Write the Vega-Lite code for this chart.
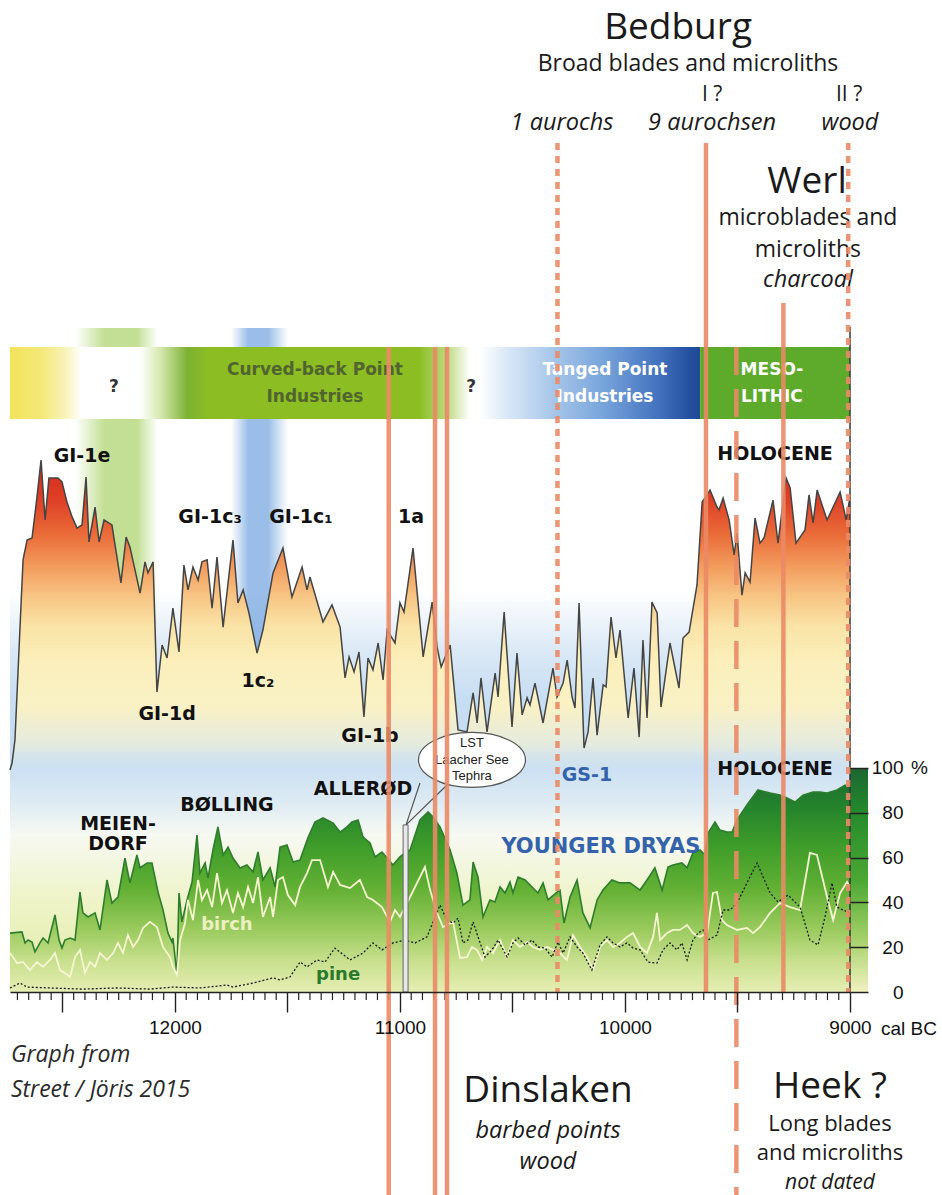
{
 "$schema": "https://vega.github.io/schema/vega-lite/v6.json",
 "width": 840,
 "height": 992,
 "autosize": {"type": "none"},
 "padding": {"left": 10, "top": 0, "right": 92, "bottom": 203},
 "background": "#ffffff",
 "config": {"view": {"stroke": null}},
 "datasets": {
  "temp": [
   {"year":12733,"t":99.1},{"year":12724,"t":102.2},{"year":12711,"t":112.5},{"year":12689,"t":161.6},{"year":12675,"t":192.9},{"year":12657,"t":201.8},{"year":12635,"t":202.7},{"year":12613,"t":221.0},{"year":12595,"t":237.5},{"year":12577,"t":210.7},{"year":12560,"t":229.5},{"year":12520,"t":229.5},{"year":12502,"t":227.7},{"year":12480,"t":218.8},{"year":12457,"t":212.1},{"year":12435,"t":207.1},{"year":12413,"t":208.5},{"year":12395,"t":229.9},{"year":12382,"t":200.9},{"year":12355,"t":216.5},{"year":12337,"t":200.9},{"year":12315,"t":210.7},{"year":12280,"t":208.5},{"year":12240,"t":182.6},{"year":12217,"t":203.1},{"year":12200,"t":198.7},{"year":12155,"t":178.1},{"year":12133,"t":192.0},{"year":12120,"t":187.1},{"year":12097,"t":192.0},{"year":12080,"t":133.9},{"year":12057,"t":154.9},{"year":12035,"t":149.1},{"year":12009,"t":171.4},{"year":11982,"t":151.8},{"year":11960,"t":190.6},{"year":11942,"t":179.5},{"year":11920,"t":189.7},{"year":11897,"t":183.9},{"year":11880,"t":192.0},{"year":11857,"t":192.9},{"year":11835,"t":171.4},{"year":11813,"t":194.2},{"year":11786,"t":162.9},{"year":11764,"t":182.6},{"year":11742,"t":201.8},{"year":11720,"t":173.7},{"year":11697,"t":179.5},{"year":11671,"t":169.2},{"year":11635,"t":151.3},{"year":11609,"t":161.6},{"year":11564,"t":187.1},{"year":11520,"t":198.2},{"year":11480,"t":176.3},{"year":11435,"t":189.7},{"year":11413,"t":179.5},{"year":11400,"t":185.3},{"year":11342,"t":165.2},{"year":11302,"t":172.8},{"year":11266,"t":162.9},{"year":11244,"t":140.2},{"year":11226,"t":149.6},{"year":11204,"t":142.9},{"year":11182,"t":151.8},{"year":11160,"t":122.8},{"year":11142,"t":149.1},{"year":11120,"t":143.8},{"year":11097,"t":155.8},{"year":11075,"t":139.3},{"year":11057,"t":161.6},{"year":11022,"t":155.8},{"year":11000,"t":173.7},{"year":10982,"t":169.6},{"year":10942,"t":198.2},{"year":10897,"t":149.6},{"year":10857,"t":174.1},{"year":10835,"t":154.0},{"year":10817,"t":145.1},{"year":10777,"t":154.9},{"year":10742,"t":117.0},{"year":10702,"t":116.1},{"year":10675,"t":133.5},{"year":10657,"t":120.1},{"year":10640,"t":140.2},{"year":10613,"t":116.1},{"year":10577,"t":142.4},{"year":10564,"t":131.7},{"year":10537,"t":169.6},{"year":10502,"t":118.3},{"year":10480,"t":151.3},{"year":10457,"t":123.7},{"year":10435,"t":131.3},{"year":10422,"t":128.1},{"year":10400,"t":137.9},{"year":10364,"t":120.1},{"year":10320,"t":144.6},{"year":10302,"t":131.7},{"year":10275,"t":137.9},{"year":10257,"t":148.2},{"year":10235,"t":131.7},{"year":10222,"t":126.8},{"year":10204,"t":173.7},{"year":10182,"t":108.9},{"year":10164,"t":116.1},{"year":10142,"t":140.2},{"year":10124,"t":114.7},{"year":10097,"t":137.1},{"year":10084,"t":136.2},{"year":10062,"t":167.4},{"year":10040,"t":149.1},{"year":10022,"t":161.6},{"year":9986,"t":122.3},{"year":9960,"t":144.6},{"year":9937,"t":113.8},{"year":9920,"t":157.1},{"year":9902,"t":122.3},{"year":9880,"t":174.1},{"year":9857,"t":169.2},{"year":9840,"t":127.2},{"year":9800,"t":155.8},{"year":9760,"t":135.7},{"year":9742,"t":158.0},{"year":9715,"t":160.7},{"year":9680,"t":181.7},{"year":9657,"t":218.8},{"year":9622,"t":224.1},{"year":9591,"t":216.5},{"year":9582,"t":215.2},{"year":9564,"t":220.5},{"year":9537,"t":210.7},{"year":9515,"t":195.1},{"year":9502,"t":204.9},{"year":9480,"t":177.2},{"year":9466,"t":187.1},{"year":9444,"t":183.0},{"year":9422,"t":211.6},{"year":9400,"t":200.4},{"year":9382,"t":202.7},{"year":9342,"t":219.6},{"year":9320,"t":200.4},{"year":9284,"t":229.5},{"year":9266,"t":225.0},{"year":9240,"t":200.4},{"year":9200,"t":206.3},{"year":9182,"t":221.9},{"year":9164,"t":209.4},{"year":9146,"t":224.1},{"year":9102,"t":210.7},{"year":9044,"t":223.2},{"year":9017,"t":210.7},{"year":9000,"t":221.0}
  ],
  "total": [
   {"year":12733,"pct":26.3},{"year":12680,"pct":26.8},{"year":12666,"pct":21.9},{"year":12653,"pct":23.2},{"year":12635,"pct":22.3},{"year":12622,"pct":17.9},{"year":12600,"pct":21.9},{"year":12586,"pct":24.1},{"year":12564,"pct":21.9},{"year":12533,"pct":34.4},{"year":12515,"pct":23.2},{"year":12502,"pct":19.6},{"year":12489,"pct":23.2},{"year":12466,"pct":24.1},{"year":12444,"pct":23.2},{"year":12422,"pct":44.6},{"year":12409,"pct":35.3},{"year":12386,"pct":33.5},{"year":12355,"pct":35.3},{"year":12333,"pct":27.7},{"year":12302,"pct":50.0},{"year":12280,"pct":39.7},{"year":12253,"pct":42.4},{"year":12222,"pct":59.8},{"year":12200,"pct":48.7},{"year":12169,"pct":61.2},{"year":12155,"pct":55.4},{"year":12124,"pct":57.6},{"year":12102,"pct":57.6},{"year":12075,"pct":44.6},{"year":12053,"pct":36.6},{"year":12031,"pct":26.3},{"year":12013,"pct":22.3},{"year":12009,"pct":24.1},{"year":11991,"pct":7.6},{"year":11982,"pct":44.2},{"year":11969,"pct":31.3},{"year":11946,"pct":41.1},{"year":11924,"pct":49.1},{"year":11902,"pct":70.1},{"year":11889,"pct":53.1},{"year":11866,"pct":57.6},{"year":11853,"pct":50.9},{"year":11831,"pct":63.4},{"year":11809,"pct":73.7},{"year":11786,"pct":61.2},{"year":11764,"pct":64.7},{"year":11742,"pct":59.8},{"year":11711,"pct":55.4},{"year":11680,"pct":56.7},{"year":11653,"pct":53.6},{"year":11631,"pct":62.5},{"year":11609,"pct":50.0},{"year":11577,"pct":55.4},{"year":11555,"pct":46.9},{"year":11533,"pct":64.7},{"year":11502,"pct":65.6},{"year":11475,"pct":58.0},{"year":11444,"pct":58.9},{"year":11409,"pct":68.8},{"year":11378,"pct":75.9},{"year":11342,"pct":77.7},{"year":11297,"pct":75.4},{"year":11266,"pct":71.4},{"year":11235,"pct":73.7},{"year":11213,"pct":75.9},{"year":11186,"pct":76.8},{"year":11164,"pct":69.2},{"year":11133,"pct":66.5},{"year":11111,"pct":60.3},{"year":11080,"pct":62.5},{"year":11057,"pct":59.8},{"year":11031,"pct":56.7},{"year":11000,"pct":60.3},{"year":10978,"pct":62.1},{"year":10955,"pct":63.4},{"year":10911,"pct":76.8},{"year":10875,"pct":80.4},{"year":10853,"pct":78.1},{"year":10822,"pct":73.7},{"year":10777,"pct":63.4},{"year":10747,"pct":53.1},{"year":10720,"pct":38.8},{"year":10689,"pct":41.1},{"year":10675,"pct":58.0},{"year":10653,"pct":51.3},{"year":10631,"pct":33.5},{"year":10600,"pct":41.1},{"year":10578,"pct":40.2},{"year":10555,"pct":46.9},{"year":10533,"pct":44.2},{"year":10511,"pct":49.1},{"year":10498,"pct":44.2},{"year":10475,"pct":51.3},{"year":10444,"pct":50.0},{"year":10413,"pct":46.9},{"year":10387,"pct":44.2},{"year":10364,"pct":48.7},{"year":10342,"pct":41.1},{"year":10302,"pct":44.6},{"year":10289,"pct":45.5},{"year":10271,"pct":30.8},{"year":10244,"pct":42.4},{"year":10213,"pct":50.0},{"year":10187,"pct":35.3},{"year":10155,"pct":28.6},{"year":10124,"pct":41.1},{"year":10098,"pct":45.5},{"year":10058,"pct":50.0},{"year":10022,"pct":48.7},{"year":9978,"pct":48.7},{"year":9933,"pct":45.5},{"year":9902,"pct":50.0},{"year":9867,"pct":55.4},{"year":9835,"pct":45.5},{"year":9809,"pct":55.8},{"year":9787,"pct":56.7},{"year":9747,"pct":57.6},{"year":9724,"pct":55.4},{"year":9698,"pct":62.1},{"year":9667,"pct":63.4},{"year":9644,"pct":61.2},{"year":9631,"pct":71.0},{"year":9600,"pct":75.9},{"year":9578,"pct":72.3},{"year":9547,"pct":71.4},{"year":9524,"pct":71.4},{"year":9502,"pct":76.8},{"year":9458,"pct":83.5},{"year":9409,"pct":90.2},{"year":9355,"pct":88.8},{"year":9311,"pct":87.9},{"year":9280,"pct":86.6},{"year":9244,"pct":84.8},{"year":9209,"pct":87.9},{"year":9164,"pct":89.3},{"year":9133,"pct":89.3},{"year":9102,"pct":88.8},{"year":9058,"pct":90.2},{"year":9022,"pct":92.4},{"year":9000,"pct":91.5}
  ],
  "birch": [
   {"year":12733,"pct":17.4},{"year":12702,"pct":12.9},{"year":12675,"pct":13.4},{"year":12644,"pct":9.8},{"year":12613,"pct":13.4},{"year":12586,"pct":11.2},{"year":12555,"pct":14.3},{"year":12533,"pct":17.4},{"year":12511,"pct":9.8},{"year":12489,"pct":8.5},{"year":12466,"pct":6.7},{"year":12444,"pct":15.6},{"year":12422,"pct":18.8},{"year":12400,"pct":8.5},{"year":12377,"pct":13.4},{"year":12355,"pct":11.2},{"year":12333,"pct":17.4},{"year":12302,"pct":14.3},{"year":12275,"pct":17.4},{"year":12253,"pct":21.9},{"year":12231,"pct":17.4},{"year":12209,"pct":25.4},{"year":12186,"pct":20.1},{"year":12164,"pct":23.2},{"year":12142,"pct":28.6},{"year":12111,"pct":31.3},{"year":12080,"pct":29.0},{"year":12053,"pct":20.1},{"year":12022,"pct":15.6},{"year":12009,"pct":11.2},{"year":11991,"pct":7.6},{"year":11977,"pct":23.2},{"year":11955,"pct":30.8},{"year":11942,"pct":41.1},{"year":11920,"pct":32.1},{"year":11897,"pct":50.0},{"year":11880,"pct":41.1},{"year":11857,"pct":45.5},{"year":11835,"pct":37.9},{"year":11813,"pct":53.1},{"year":11791,"pct":39.7},{"year":11769,"pct":45.5},{"year":11742,"pct":35.3},{"year":11720,"pct":44.2},{"year":11697,"pct":37.9},{"year":11675,"pct":46.9},{"year":11653,"pct":39.7},{"year":11631,"pct":51.3},{"year":11609,"pct":33.5},{"year":11577,"pct":42.4},{"year":11564,"pct":33.5},{"year":11542,"pct":50.0},{"year":11520,"pct":51.3},{"year":11498,"pct":43.3},{"year":11466,"pct":38.8},{"year":11444,"pct":46.9},{"year":11413,"pct":53.1},{"year":11391,"pct":58.9},{"year":11355,"pct":58.9},{"year":11320,"pct":46.9},{"year":11297,"pct":53.6},{"year":11266,"pct":47.8},{"year":11222,"pct":46.4},{"year":11178,"pct":50.0},{"year":11146,"pct":42.4},{"year":11120,"pct":41.1},{"year":11080,"pct":37.9},{"year":11044,"pct":31.3},{"year":11022,"pct":36.6},{"year":11000,"pct":33.5},{"year":10955,"pct":42.4},{"year":10889,"pct":55.8},{"year":10866,"pct":45.5},{"year":10835,"pct":35.3},{"year":10809,"pct":29.0},{"year":10764,"pct":31.3},{"year":10733,"pct":15.2},{"year":10702,"pct":15.6},{"year":10680,"pct":20.1},{"year":10658,"pct":18.8},{"year":10635,"pct":14.3},{"year":10613,"pct":20.1},{"year":10586,"pct":17.4},{"year":10555,"pct":23.2},{"year":10524,"pct":15.6},{"year":10498,"pct":23.2},{"year":10467,"pct":20.1},{"year":10435,"pct":22.3},{"year":10409,"pct":20.1},{"year":10378,"pct":18.8},{"year":10347,"pct":20.1},{"year":10320,"pct":18.8},{"year":10289,"pct":17.4},{"year":10258,"pct":14.3},{"year":10231,"pct":25.4},{"year":10200,"pct":20.1},{"year":10169,"pct":15.6},{"year":10142,"pct":9.8},{"year":10111,"pct":20.1},{"year":10080,"pct":23.2},{"year":10053,"pct":20.1},{"year":10022,"pct":21.9},{"year":9991,"pct":24.6},{"year":9964,"pct":26.3},{"year":9933,"pct":20.1},{"year":9902,"pct":17.4},{"year":9875,"pct":24.6},{"year":9858,"pct":35.3},{"year":9844,"pct":23.2},{"year":9813,"pct":26.3},{"year":9787,"pct":27.7},{"year":9756,"pct":27.7},{"year":9724,"pct":29.9},{"year":9698,"pct":26.3},{"year":9667,"pct":24.6},{"year":9635,"pct":26.3},{"year":9609,"pct":44.2},{"year":9591,"pct":44.6},{"year":9569,"pct":32.1},{"year":9547,"pct":29.9},{"year":9502,"pct":27.7},{"year":9458,"pct":28.6},{"year":9431,"pct":26.3},{"year":9400,"pct":29.0},{"year":9355,"pct":35.3},{"year":9311,"pct":39.7},{"year":9266,"pct":37.9},{"year":9222,"pct":36.6},{"year":9178,"pct":62.1},{"year":9147,"pct":61.2},{"year":9102,"pct":42.4},{"year":9075,"pct":32.1},{"year":9044,"pct":44.2},{"year":9013,"pct":49.1},{"year":9000,"pct":46.9}
  ],
  "pine": [
   {"year":12733,"pct":1.8},{"year":12689,"pct":4.0},{"year":12657,"pct":2.2},{"year":12555,"pct":1.8},{"year":12409,"pct":1.3},{"year":12258,"pct":1.8},{"year":12111,"pct":1.3},{"year":12009,"pct":2.2},{"year":11889,"pct":1.8},{"year":11769,"pct":3.1},{"year":11742,"pct":2.2},{"year":11653,"pct":4.0},{"year":11564,"pct":6.3},{"year":11533,"pct":5.4},{"year":11489,"pct":6.7},{"year":11444,"pct":13.4},{"year":11413,"pct":11.2},{"year":11369,"pct":14.3},{"year":11333,"pct":13.4},{"year":11289,"pct":19.6},{"year":11222,"pct":14.3},{"year":11164,"pct":17.4},{"year":11120,"pct":21.9},{"year":11080,"pct":18.8},{"year":11031,"pct":21.9},{"year":10978,"pct":23.2},{"year":10933,"pct":21.9},{"year":10880,"pct":24.6},{"year":10853,"pct":31.3},{"year":10822,"pct":38.8},{"year":10791,"pct":32.1},{"year":10764,"pct":30.8},{"year":10742,"pct":33.0},{"year":10720,"pct":21.9},{"year":10698,"pct":23.2},{"year":10675,"pct":31.3},{"year":10653,"pct":24.6},{"year":10622,"pct":15.6},{"year":10591,"pct":18.8},{"year":10564,"pct":23.2},{"year":10524,"pct":15.6},{"year":10498,"pct":21.9},{"year":10475,"pct":24.1},{"year":10444,"pct":21.0},{"year":10413,"pct":23.2},{"year":10387,"pct":20.1},{"year":10355,"pct":19.6},{"year":10324,"pct":15.6},{"year":10298,"pct":22.3},{"year":10275,"pct":17.4},{"year":10244,"pct":24.6},{"year":10213,"pct":20.1},{"year":10187,"pct":17.4},{"year":10147,"pct":9.8},{"year":10111,"pct":21.0},{"year":10080,"pct":24.6},{"year":10053,"pct":21.9},{"year":10022,"pct":20.1},{"year":9991,"pct":21.9},{"year":9964,"pct":19.6},{"year":9933,"pct":18.8},{"year":9898,"pct":13.4},{"year":9858,"pct":12.9},{"year":9831,"pct":18.8},{"year":9800,"pct":21.9},{"year":9769,"pct":18.8},{"year":9747,"pct":21.9},{"year":9724,"pct":14.3},{"year":9698,"pct":23.2},{"year":9675,"pct":26.3},{"year":9653,"pct":27.7},{"year":9631,"pct":23.2},{"year":9591,"pct":25.4},{"year":9564,"pct":36.6},{"year":9533,"pct":36.6},{"year":9502,"pct":39.7},{"year":9458,"pct":48.7},{"year":9413,"pct":57.6},{"year":9386,"pct":51.3},{"year":9355,"pct":44.2},{"year":9320,"pct":40.2},{"year":9275,"pct":43.3},{"year":9222,"pct":37.9},{"year":9178,"pct":23.2},{"year":9142,"pct":21.0},{"year":9111,"pct":33.5},{"year":9080,"pct":48.7},{"year":9058,"pct":37.9},{"year":9031,"pct":36.6},{"year":9000,"pct":35.3}
  ],
  "minorTicks": [
   {"year":12700},{"year":12650},{"year":12600},{"year":12550},{"year":12450},{"year":12400},{"year":12350},{"year":12300},{"year":12250},{"year":12200},{"year":12150},{"year":12100},{"year":12050},{"year":11950},{"year":11900},{"year":11850},{"year":11800},{"year":11750},{"year":11700},{"year":11650},{"year":11600},{"year":11550},{"year":11450},{"year":11400},{"year":11350},{"year":11300},{"year":11250},{"year":11200},{"year":11150},{"year":11100},{"year":11050},{"year":10950},{"year":10900},{"year":10850},{"year":10800},{"year":10750},{"year":10700},{"year":10650},{"year":10600},{"year":10550},{"year":10450},{"year":10400},{"year":10350},{"year":10300},{"year":10250},{"year":10200},{"year":10150},{"year":10100},{"year":10050},{"year":9950},{"year":9900},{"year":9850},{"year":9800},{"year":9750},{"year":9700},{"year":9650},{"year":9600},{"year":9550},{"year":9450},{"year":9400},{"year":9350},{"year":9300},{"year":9250},{"year":9200},{"year":9150},{"year":9100},{"year":9050}
  ],
  "boldLabels": [
   {"year":12413,"v":236.6,"label":"GI-1e"},{"year":11844,"v":209.4,"label":"GI-1c₃"},{"year":11440,"v":209.4,"label":"GI-1c₁"},{"year":10951,"v":209.4,"label":"1a"},{"year":11631,"v":136.2,"label":"1c₂"},{"year":12035,"v":121.4,"label":"GI-1d"},{"year":11133,"v":111.6,"label":"GI-1b"},{"year":9333,"v":237.5,"label":"HOLOCENE"},{"year":9333,"v":96.9,"label":"HOLOCENE"},{"year":12253,"v":72.3,"label":"MEIEN-"},{"year":12253,"v":63.4,"label":"DORF"},{"year":11769,"v":80.8,"label":"BØLLING"},{"year":11164,"v":87.9,"label":"ALLERØD"}
  ],
  "siteBig": [
   {"year":9764,"v":425.4,"label":"Bedburg"},{"year":9191,"v":356.6,"label":"Werl"},{"year":10342,"v":-49.1,"label":"Dinslaken"},{"year":9089,"v":-47.3,"label":"Heek ?"}
  ],
  "siteSub": [
   {"year":9720,"v":411.0,"label":"Broad blades and microliths"},{"year":9187,"v":342.4,"label":"microblades and"},{"year":9187,"v":328.3,"label":"microliths"}
  ],
  "roman": [
   {"year":9613,"v":397.8,"label":"I ?"},{"year":9004,"v":397.8,"label":"II ?"}
  ],
  "siteSubLow": [
   {"year":9089,"v":-62.1,"label":"Long blades"},{"year":9089,"v":-75.0,"label":"and microliths"}
  ],
  "siteItalic": [
   {"year":10280,"v":384.8,"label":"1 aurochs"},{"year":9613,"v":384.8,"label":"9 aurochsen"},{"year":9000,"v":384.8,"label":"wood"},{"year":9187,"v":314.9,"label":"charcoal"},{"year":10342,"v":-65.2,"label":"barbed points"},{"year":10342,"v":-79.0,"label":"wood"}
  ],
  "siteItalicLow": [
   {"year":9089,"v":-87.9,"label":"not dated"}
  ],
  "source": [
   {"year":12729,"v":-31.3,"label":"Graph from"},{"year":12729,"v":-46.9,"label":"Street / Jöris 2015"}
  ],
  "solidLines": [
   {"year":11050,"v":287.9,"v2":-90.6,"site":"Dinslaken"},{"year":10844,"v":287.9,"v2":-90.6,"site":"Dinslaken"},{"year":10791,"v":287.9,"v2":-90.6,"site":"Dinslaken"},{"year":9640,"v":379.0,"v2":0,"site":"Bedburg I"},{"year":9296,"v":307.6,"v2":0,"site":"Werl"}
  ],
  "shortDashLines": [
   {"year":10300,"v":379.0,"v2":0,"site":"Bedburg 1 aurochs"},{"year":9008,"v":379.0,"v2":0,"site":"Bedburg II"}
  ],
  "longDashLines": [
   {"year":9505,"v":287.9,"v2":-90.6,"site":"Heek"}
  ]
 },
 "layer": [
  {
   "data": {"values": [{"year": 12733, "year2": 9000, "v": 0, "v2": 252}]},
   "mark": {"type": "rect", "color": {"gradient": "linear", "x1": 0, "y1": 0, "x2": 0, "y2": 1, "stops": [
     {"offset": 0, "color": "#ffffff"}, {"offset": 0.289, "color": "#ffffff"}, {"offset": 0.395, "color": "#dbe9f6"}, {"offset": 0.484, "color": "#c6ddf2"}, {"offset": 0.59, "color": "#c8def2"}, {"offset": 0.66, "color": "#dceaf3"}, {"offset": 0.722, "color": "#f7f9f2"}, {"offset": 0.837, "color": "#eef4c8"}, {"offset": 1, "color": "#e0eaa4"}]}},
   "encoding": {
    "x": {"field": "year", "type": "quantitative", "scale": {"domain": [9000, 12733], "reverse": true, "nice": false, "zero": false},
     "axis": {"values": [12500, 12000, 11500, 11000, 10500, 10000, 9500, 9000], "labelExpr": "datum.value % 1000 == 0 ? format(datum.value, 'd') : ''", "tickSize": 20, "tickWidth": 1.4, "tickColor": "#222222", "domainColor": "#222222", "domainWidth": 1.5, "labelFont": "Liberation Sans", "labelFontSize": 19, "labelColor": "#111111", "labelPadding": 6, "labelFlush": false, "labelOverlap": false, "grid": false, "title": null, "zindex": 2}},
    "x2": {"field": "year2"},
    "y": {"field": "v", "type": "quantitative", "scale": {"domain": [0, 442.857], "nice": false, "zero": false},
     "axis": {"orient": "right", "values": [0, 20, 40, 60, 80, 100], "labelExpr": "datum.value == 100 ? '100' : format(datum.value, 'd')", "domain": false, "tickSize": 18, "tickWidth": 1.5, "tickColor": "#222222", "labelFont": "Liberation Sans", "labelFontSize": 19, "labelColor": "#111111", "labelAlign": "right", "labelPadding": 35, "labelBaseline": "middle", "labelFlush": false, "labelOverlap": false, "grid": false, "title": null, "zindex": 2}},
    "y2": {"field": "v2"}
   }
  },
  {
   "data": {"values": [{"zone": "green", "year": 12444, "year2": 12075, "v": 150, "v2": 296.4}]},
   "mark": {"type": "rect", "color": {"gradient": "linear", "x1": 0, "y1": 0, "x2": 1, "y2": 0, "stops": [
     {"offset": 0, "color": "rgba(165,208,90,0)"}, {"offset": 0.35, "color": "rgba(155,202,78,0.6)"}, {"offset": 0.75, "color": "rgba(155,202,78,0.6)"}, {"offset": 1, "color": "rgba(165,208,90,0)"}]}},
   "encoding": {
    "x": {"field": "year", "type": "quantitative", "scale": {"domain": [9000, 12733], "reverse": true, "nice": false, "zero": false}},
    "x2": {"field": "year2"},
    "y": {"field": "v", "type": "quantitative", "scale": {"domain": [0, 442.857], "nice": false, "zero": false}},
    "y2": {"field": "v2"}
   }
  },
  {
   "data": {"values": [{"zone": "blue", "year": 11751, "year2": 11497, "v": 150, "v2": 296.4}]},
   "mark": {"type": "rect", "color": {"gradient": "linear", "x1": 0, "y1": 0, "x2": 1, "y2": 0, "stops": [
     {"offset": 0, "color": "rgba(110,160,222,0)"}, {"offset": 0.3, "color": "rgba(100,155,220,0.65)"}, {"offset": 0.65, "color": "rgba(100,155,220,0.65)"}, {"offset": 1, "color": "rgba(110,160,222,0)"}]}},
   "encoding": {
    "x": {"field": "year", "type": "quantitative", "scale": {"domain": [9000, 12733], "reverse": true, "nice": false, "zero": false}},
    "x2": {"field": "year2"},
    "y": {"field": "v", "type": "quantitative", "scale": {"domain": [0, 442.857], "nice": false, "zero": false}},
    "y2": {"field": "v2"}
   }
  },
  {
   "data": {"name": "temp"},
   "mark": {"type": "area", "color": {"gradient": "linear", "x1": 0, "y1": 0, "x2": 0, "y2": 1, "stops": [
     {"offset": 0, "color": "#d3281c"}, {"offset": 0.13, "color": "#de4026"}, {"offset": 0.245, "color": "#ea6e3a"}, {"offset": 0.34, "color": "#f29a5c"}, {"offset": 0.44, "color": "#f7c584"}, {"offset": 0.535, "color": "#fae3a6"}, {"offset": 0.65, "color": "#fbefbb"}, {"offset": 0.8, "color": "#f9f1c6"}, {"offset": 0.92, "color": "rgba(240,240,214,0.7)"}, {"offset": 1, "color": "rgba(215,230,240,0.15)"}]}},
   "encoding": {
    "x": {"field": "year", "type": "quantitative", "scale": {"domain": [9000, 12733], "reverse": true, "nice": false, "zero": false}},
    "y": {"field": "t", "type": "quantitative", "scale": {"domain": [0, 442.857], "nice": false, "zero": false}},
    "y2": {"datum": 100}
   }
  },
  {
   "data": {"name": "temp"},
   "mark": {"type": "line", "color": "#444444", "strokeWidth": 1.5},
   "encoding": {
    "x": {"field": "year", "type": "quantitative", "scale": {"domain": [9000, 12733], "reverse": true, "nice": false, "zero": false}},
    "y": {"field": "t", "type": "quantitative", "scale": {"domain": [0, 442.857], "nice": false, "zero": false}}
   }
  },
  {
   "data": {"values": [{"segment": "unknown early", "year": 12733, "year2": 12155, "v": 255.8, "v2": 287.9}]},
   "mark": {"type": "rect", "color": {"gradient": "linear", "x1": 0, "y1": 0, "x2": 1, "y2": 0, "stops": [
     {"offset": 0, "color": "#f2e35a"}, {"offset": 0.25, "color": "#f4e97a"}, {"offset": 0.42, "color": "#f8f2b8"}, {"offset": 0.55, "color": "#ffffff"}, {"offset": 1, "color": "#ffffff"}]}},
   "encoding": {
    "x": {"field": "year", "type": "quantitative", "scale": {"domain": [9000, 12733], "reverse": true, "nice": false, "zero": false}},
    "x2": {"field": "year2"},
    "y": {"field": "v", "type": "quantitative", "scale": {"domain": [0, 442.857], "nice": false, "zero": false}},
    "y2": {"field": "v2"}
   }
  },
  {
   "data": {"values": [{"segment": "Curved-back Point Industries", "year": 12155, "year2": 10644, "v": 255.8, "v2": 287.9}]},
   "mark": {"type": "rect", "color": {"gradient": "linear", "x1": 0, "y1": 0, "x2": 1, "y2": 0, "stops": [
     {"offset": 0, "color": "#ffffff"}, {"offset": 0.06, "color": "#d6e8b0"}, {"offset": 0.14, "color": "#7cb133"}, {"offset": 0.2, "color": "#8cbd22"}, {"offset": 0.82, "color": "#8cbd22"}, {"offset": 0.9, "color": "#bcd87e"}, {"offset": 0.97, "color": "#ffffff"}, {"offset": 1, "color": "#ffffff"}]}},
   "encoding": {
    "x": {"field": "year", "type": "quantitative", "scale": {"domain": [9000, 12733], "reverse": true, "nice": false, "zero": false}},
    "x2": {"field": "year2"},
    "y": {"field": "v", "type": "quantitative", "scale": {"domain": [0, 442.857], "nice": false, "zero": false}},
    "y2": {"field": "v2"}
   }
  },
  {
   "data": {"values": [{"segment": "Tanged Point Industries", "year": 10644, "year2": 9666, "v": 255.8, "v2": 287.9}]},
   "mark": {"type": "rect", "color": {"gradient": "linear", "x1": 0, "y1": 0, "x2": 1, "y2": 0, "stops": [
     {"offset": 0, "color": "#ffffff"}, {"offset": 0.1, "color": "#e0ecf8"}, {"offset": 0.3, "color": "#aecbeb"}, {"offset": 0.55, "color": "#7aa6dc"}, {"offset": 0.8, "color": "#4574c0"}, {"offset": 0.95, "color": "#2550a0"}, {"offset": 1, "color": "#1f4a94"}]}},
   "encoding": {
    "x": {"field": "year", "type": "quantitative", "scale": {"domain": [9000, 12733], "reverse": true, "nice": false, "zero": false}},
    "x2": {"field": "year2"},
    "y": {"field": "v", "type": "quantitative", "scale": {"domain": [0, 442.857], "nice": false, "zero": false}},
    "y2": {"field": "v2"}
   }
  },
  {
   "data": {"values": [{"segment": "Mesolithic", "year": 9666, "year2": 9000, "v": 255.8, "v2": 287.9}]},
   "mark": {"type": "rect", "color": "#5eab2c"},
   "encoding": {
    "x": {"field": "year", "type": "quantitative", "scale": {"domain": [9000, 12733], "reverse": true, "nice": false, "zero": false}},
    "x2": {"field": "year2"},
    "y": {"field": "v", "type": "quantitative", "scale": {"domain": [0, 442.857], "nice": false, "zero": false}},
    "y2": {"field": "v2"}
   }
  },
  {
   "data": {"values": [{"year": 11378, "v": 275.4, "label": "Curved-back Point"}, {"year": 11378, "v": 263.4, "label": "Industries"}]},
   "mark": {"type": "text", "font": "DejaVu Sans", "fontWeight": "bold", "fontSize": 17, "color": "#516430", "align": "center", "baseline": "alphabetic"},
   "encoding": {
    "x": {"field": "year", "type": "quantitative", "scale": {"domain": [9000, 12733], "reverse": true, "nice": false, "zero": false}},
    "y": {"field": "v", "type": "quantitative", "scale": {"domain": [0, 442.857], "nice": false, "zero": false}},
    "text": {"field": "label"}
   }
  },
  {
   "data": {"values": [{"year": 10089, "v": 275.4, "label": "Tanged Point"}, {"year": 10089, "v": 263.4, "label": "Industries"}, {"year": 9347, "v": 275.4, "label": "MESO-"}, {"year": 9347, "v": 263.4, "label": "LITHIC"}]},
   "mark": {"type": "text", "font": "DejaVu Sans", "fontWeight": "bold", "fontSize": 17, "color": "#ffffff", "align": "center", "baseline": "alphabetic"},
   "encoding": {
    "x": {"field": "year", "type": "quantitative", "scale": {"domain": [9000, 12733], "reverse": true, "nice": false, "zero": false}},
    "y": {"field": "v", "type": "quantitative", "scale": {"domain": [0, 442.857], "nice": false, "zero": false}},
    "text": {"field": "label"}
   }
  },
  {
   "data": {"values": [{"year": 12271, "v": 267.9, "label": "?"}, {"year": 10684, "v": 267.9, "label": "?"}]},
   "mark": {"type": "text", "font": "DejaVu Sans", "fontWeight": "bold", "fontSize": 17, "color": "#333333", "align": "center", "baseline": "alphabetic"},
   "encoding": {
    "x": {"field": "year", "type": "quantitative", "scale": {"domain": [9000, 12733], "reverse": true, "nice": false, "zero": false}},
    "y": {"field": "v", "type": "quantitative", "scale": {"domain": [0, 442.857], "nice": false, "zero": false}},
    "text": {"field": "label"}
   }
  },
  {
   "data": {"name": "total"},
   "mark": {"type": "area", "color": {"gradient": "linear", "x1": 0, "y1": 0, "x2": 0, "y2": 1, "stops": [
     {"offset": 0, "color": "#1d7330"}, {"offset": 0.12, "color": "#26852c"}, {"offset": 0.3, "color": "#3f9d2a"}, {"offset": 0.5, "color": "#62b034"}, {"offset": 0.7, "color": "#9bcb5e"}, {"offset": 0.85, "color": "#c8e08e"}, {"offset": 1, "color": "#e6eeb4"}]}},
   "encoding": {
    "x": {"field": "year", "type": "quantitative", "scale": {"domain": [9000, 12733], "reverse": true, "nice": false, "zero": false}},
    "y": {"field": "pct", "type": "quantitative", "scale": {"domain": [0, 442.857], "nice": false, "zero": false}},
    "y2": {"datum": 0}
   }
  },
  {
   "data": {"name": "total"},
   "mark": {"type": "line", "color": "#2d7d2d", "strokeWidth": 1.6},
   "encoding": {
    "x": {"field": "year", "type": "quantitative", "scale": {"domain": [9000, 12733], "reverse": true, "nice": false, "zero": false}},
    "y": {"field": "pct", "type": "quantitative", "scale": {"domain": [0, 442.857], "nice": false, "zero": false}}
   }
  },
  {
   "data": {"name": "birch"},
   "mark": {"type": "line", "color": "#f6f6d0", "strokeWidth": 1.8},
   "encoding": {
    "x": {"field": "year", "type": "quantitative", "scale": {"domain": [9000, 12733], "reverse": true, "nice": false, "zero": false}},
    "y": {"field": "pct", "type": "quantitative", "scale": {"domain": [0, 442.857], "nice": false, "zero": false}}
   }
  },
  {
   "data": {"name": "pine"},
   "mark": {"type": "line", "color": "#1a1a1a", "strokeWidth": 1.3, "strokeDash": [2, 2]},
   "encoding": {
    "x": {"field": "year", "type": "quantitative", "scale": {"domain": [9000, 12733], "reverse": true, "nice": false, "zero": false}},
    "y": {"field": "pct", "type": "quantitative", "scale": {"domain": [0, 442.857], "nice": false, "zero": false}}
   }
  },
  {
   "data": {"values": [{"year": 9000, "year2": 8920, "v": 0, "v2": 100}]},
   "mark": {"type": "rect", "color": {"gradient": "linear", "x1": 0, "y1": 0, "x2": 0, "y2": 1, "stops": [
     {"offset": 0, "color": "#1b6630"}, {"offset": 0.2, "color": "#258a2c"}, {"offset": 0.5, "color": "#4aa832"}, {"offset": 0.75, "color": "#a0cf66"}, {"offset": 1, "color": "#f2f2c0"}]}},
   "encoding": {
    "x": {"field": "year", "type": "quantitative", "scale": {"domain": [9000, 12733], "reverse": true, "nice": false, "zero": false}},
    "x2": {"field": "year2"},
    "y": {"field": "v", "type": "quantitative", "scale": {"domain": [0, 442.857], "nice": false, "zero": false}},
    "y2": {"field": "v2"}
   }
  },
  {
   "data": {"values": [{"year": 9000, "v": 0, "v2": 296.9}]},
   "mark": {"type": "rule", "color": "#333333", "strokeWidth": 1.5},
   "encoding": {
    "x": {"field": "year", "type": "quantitative", "scale": {"domain": [9000, 12733], "reverse": true, "nice": false, "zero": false}},
    "y": {"field": "v", "type": "quantitative", "scale": {"domain": [0, 442.857], "nice": false, "zero": false}},
    "y2": {"field": "v2"}
   }
  },
  {
   "data": {"name": "minorTicks"},
   "mark": {"type": "rule", "color": "#222222", "strokeWidth": 1.2},
   "encoding": {
    "x": {"field": "year", "type": "quantitative", "scale": {"domain": [9000, 12733], "reverse": true, "nice": false, "zero": false}},
    "y": {"datum": 0, "type": "quantitative", "scale": {"domain": [0, 442.857], "nice": false, "zero": false}},
    "y2": {"datum": -3.6}
   }
  },
  {
   "data": {"values": [{"year": 10986, "year2": 10964, "v": 0, "v2": 74.6}]},
   "mark": {"type": "rect", "color": "#e8e8e8", "stroke": "#666666", "strokeWidth": 1},
   "encoding": {
    "x": {"field": "year", "type": "quantitative", "scale": {"domain": [9000, 12733], "reverse": true, "nice": false, "zero": false}},
    "x2": {"field": "year2"},
    "y": {"field": "v", "type": "quantitative", "scale": {"domain": [0, 442.857], "nice": false, "zero": false}},
    "y2": {"field": "v2"}
   }
  },
  {
   "data": {"values": [{"o": 1, "year": 10911, "v": 93.3}, {"o": 2, "year": 10973, "v": 74.6}, {"o": 3, "year": 10791, "v": 92.4}]},
   "mark": {"type": "line", "color": "#555555", "strokeWidth": 1.2},
   "encoding": {
    "x": {"field": "year", "type": "quantitative", "scale": {"domain": [9000, 12733], "reverse": true, "nice": false, "zero": false}},
    "y": {"field": "v", "type": "quantitative", "scale": {"domain": [0, 442.857], "nice": false, "zero": false}},
    "order": {"field": "o"}
   }
  },
  {
   "data": {"values": [{"year": 10680, "v": 103.6, "label": "LST"}]},
   "mark": {"type": "point", "shape": "M -1 0 C -1 -0.284 -0.552 -0.514 0 -0.514 C 0.552 -0.514 1 -0.284 1 0 C 1 0.284 0.552 0.514 0 0.514 C -0.552 0.514 -1 0.284 -1 0 Z", "size": 11449, "filled": true, "fill": "#ffffff", "stroke": "#555555", "strokeWidth": 1.2, "opacity": 1},
   "encoding": {
    "x": {"field": "year", "type": "quantitative", "scale": {"domain": [9000, 12733], "reverse": true, "nice": false, "zero": false}},
    "y": {"field": "v", "type": "quantitative", "scale": {"domain": [0, 442.857], "nice": false, "zero": false}}
   }
  },
  {
   "data": {"values": [{"year": 10680, "v": 109.4, "label": "LST"}, {"year": 10680, "v": 101.8, "label": "Laacher See"}, {"year": 10680, "v": 94.6, "label": "Tephra"}]},
   "mark": {"type": "text", "font": "Liberation Sans", "fontSize": 13, "color": "#222222", "align": "center", "baseline": "alphabetic"},
   "encoding": {
    "x": {"field": "year", "type": "quantitative", "scale": {"domain": [9000, 12733], "reverse": true, "nice": false, "zero": false}},
    "y": {"field": "v", "type": "quantitative", "scale": {"domain": [0, 442.857], "nice": false, "zero": false}},
    "text": {"field": "label"}
   }
  },
  {
   "data": {"name": "boldLabels"},
   "mark": {"type": "text", "font": "DejaVu Sans", "fontWeight": "bold", "fontSize": 19, "color": "#111111", "align": "center", "baseline": "alphabetic"},
   "encoding": {
    "x": {"field": "year", "type": "quantitative", "scale": {"domain": [9000, 12733], "reverse": true, "nice": false, "zero": false}},
    "y": {"field": "v", "type": "quantitative", "scale": {"domain": [0, 442.857], "nice": false, "zero": false}},
    "text": {"field": "label"}
   }
  },
  {
   "data": {"values": [{"year": 10169, "v": 94.2, "label": "GS-1"}]},
   "mark": {"type": "text", "font": "DejaVu Sans", "fontWeight": "bold", "fontSize": 19, "color": "#3463ab", "align": "center", "baseline": "alphabetic"},
   "encoding": {
    "x": {"field": "year", "type": "quantitative", "scale": {"domain": [9000, 12733], "reverse": true, "nice": false, "zero": false}},
    "y": {"field": "v", "type": "quantitative", "scale": {"domain": [0, 442.857], "nice": false, "zero": false}},
    "text": {"field": "label"}
   }
  },
  {
   "data": {"values": [{"year": 10107, "v": 62.1, "label": "YOUNGER DRYAS"}]},
   "mark": {"type": "text", "font": "DejaVu Sans", "fontWeight": "bold", "fontSize": 21, "color": "#3463ab", "align": "center", "baseline": "alphabetic"},
   "encoding": {
    "x": {"field": "year", "type": "quantitative", "scale": {"domain": [9000, 12733], "reverse": true, "nice": false, "zero": false}},
    "y": {"field": "v", "type": "quantitative", "scale": {"domain": [0, 442.857], "nice": false, "zero": false}},
    "text": {"field": "label"}
   }
  },
  {
   "data": {"values": [{"year": 11769, "v": 27.7, "label": "birch"}]},
   "mark": {"type": "text", "font": "DejaVu Sans", "fontWeight": "bold", "fontSize": 18, "color": "#eef0c4", "align": "center", "baseline": "alphabetic"},
   "encoding": {
    "x": {"field": "year", "type": "quantitative", "scale": {"domain": [9000, 12733], "reverse": true, "nice": false, "zero": false}},
    "y": {"field": "v", "type": "quantitative", "scale": {"domain": [0, 442.857], "nice": false, "zero": false}},
    "text": {"field": "label"}
   }
  },
  {
   "data": {"values": [{"year": 11275, "v": 5.4, "label": "pine"}]},
   "mark": {"type": "text", "font": "DejaVu Sans", "fontWeight": "bold", "fontSize": 18, "color": "#2b7a2b", "align": "center", "baseline": "alphabetic"},
   "encoding": {
    "x": {"field": "year", "type": "quantitative", "scale": {"domain": [9000, 12733], "reverse": true, "nice": false, "zero": false}},
    "y": {"field": "v", "type": "quantitative", "scale": {"domain": [0, 442.857], "nice": false, "zero": false}},
    "text": {"field": "label"}
   }
  },
  {
   "data": {"name": "siteBig"},
   "mark": {"type": "text", "font": "Open Sans", "fontSize": 37, "color": "#1a1a1a", "align": "center", "baseline": "alphabetic"},
   "encoding": {
    "x": {"field": "year", "type": "quantitative", "scale": {"domain": [9000, 12733], "reverse": true, "nice": false, "zero": false}},
    "y": {"field": "v", "type": "quantitative", "scale": {"domain": [0, 442.857], "nice": false, "zero": false}},
    "text": {"field": "label"}
   }
  },
  {
   "data": {"name": "siteSub"},
   "mark": {"type": "text", "font": "Open Sans", "fontSize": 23, "color": "#1a1a1a", "align": "center", "baseline": "alphabetic"},
   "encoding": {
    "x": {"field": "year", "type": "quantitative", "scale": {"domain": [9000, 12733], "reverse": true, "nice": false, "zero": false}},
    "y": {"field": "v", "type": "quantitative", "scale": {"domain": [0, 442.857], "nice": false, "zero": false}},
    "text": {"field": "label"}
   }
  },
  {
   "data": {"name": "roman"},
   "mark": {"type": "text", "font": "Open Sans", "fontSize": 21, "color": "#1a1a1a", "align": "center", "baseline": "alphabetic"},
   "encoding": {
    "x": {"field": "year", "type": "quantitative", "scale": {"domain": [9000, 12733], "reverse": true, "nice": false, "zero": false}},
    "y": {"field": "v", "type": "quantitative", "scale": {"domain": [0, 442.857], "nice": false, "zero": false}},
    "text": {"field": "label"}
   }
  },
  {
   "data": {"name": "siteSubLow"},
   "mark": {"type": "text", "font": "Open Sans", "fontSize": 22, "color": "#1a1a1a", "align": "center", "baseline": "alphabetic"},
   "encoding": {
    "x": {"field": "year", "type": "quantitative", "scale": {"domain": [9000, 12733], "reverse": true, "nice": false, "zero": false}},
    "y": {"field": "v", "type": "quantitative", "scale": {"domain": [0, 442.857], "nice": false, "zero": false}},
    "text": {"field": "label"}
   }
  },
  {
   "data": {"name": "siteItalic"},
   "mark": {"type": "text", "font": "Open Sans", "fontStyle": "italic", "fontSize": 23.5, "color": "#1a1a1a", "align": "center", "baseline": "alphabetic"},
   "encoding": {
    "x": {"field": "year", "type": "quantitative", "scale": {"domain": [9000, 12733], "reverse": true, "nice": false, "zero": false}},
    "y": {"field": "v", "type": "quantitative", "scale": {"domain": [0, 442.857], "nice": false, "zero": false}},
    "text": {"field": "label"}
   }
  },
  {
   "data": {"name": "siteItalicLow"},
   "mark": {"type": "text", "font": "Open Sans", "fontStyle": "italic", "fontSize": 21, "color": "#1a1a1a", "align": "center", "baseline": "alphabetic"},
   "encoding": {
    "x": {"field": "year", "type": "quantitative", "scale": {"domain": [9000, 12733], "reverse": true, "nice": false, "zero": false}},
    "y": {"field": "v", "type": "quantitative", "scale": {"domain": [0, 442.857], "nice": false, "zero": false}},
    "text": {"field": "label"}
   }
  },
  {
   "data": {"name": "source"},
   "mark": {"type": "text", "font": "Open Sans", "fontStyle": "italic", "fontSize": 23, "color": "#2a2a2a", "align": "left", "baseline": "alphabetic"},
   "encoding": {
    "x": {"field": "year", "type": "quantitative", "scale": {"domain": [9000, 12733], "reverse": true, "nice": false, "zero": false}},
    "y": {"field": "v", "type": "quantitative", "scale": {"domain": [0, 442.857], "nice": false, "zero": false}},
    "text": {"field": "label"}
   }
  },
  {
   "data": {"values": [{"year": 8862, "v": -19.2, "label": "cal BC"}]},
   "mark": {"type": "text", "font": "Liberation Sans", "fontSize": 19, "color": "#111111", "align": "left", "baseline": "alphabetic"},
   "encoding": {
    "x": {"field": "year", "type": "quantitative", "scale": {"domain": [9000, 12733], "reverse": true, "nice": false, "zero": false}},
    "y": {"field": "v", "type": "quantitative", "scale": {"domain": [0, 442.857], "nice": false, "zero": false}},
    "text": {"field": "label"}
   }
  },
  {
   "data": {"values": [{"year": 8729, "v": 100, "label": "%"}]},
   "mark": {"type": "text", "font": "Liberation Sans", "fontSize": 19, "color": "#111111", "align": "left", "baseline": "middle"},
   "encoding": {
    "x": {"field": "year", "type": "quantitative", "scale": {"domain": [9000, 12733], "reverse": true, "nice": false, "zero": false}},
    "y": {"field": "v", "type": "quantitative", "scale": {"domain": [0, 442.857], "nice": false, "zero": false}},
    "text": {"field": "label"}
   }
  },
  {
   "data": {"name": "solidLines"},
   "mark": {"type": "rule", "color": "#ea8a66", "strokeWidth": 4.5, "opacity": 0.9},
   "encoding": {
    "x": {"field": "year", "type": "quantitative", "scale": {"domain": [9000, 12733], "reverse": true, "nice": false, "zero": false}},
    "y": {"field": "v", "type": "quantitative", "scale": {"domain": [0, 442.857], "nice": false, "zero": false}},
    "y2": {"field": "v2"}
   }
  },
  {
   "data": {"name": "shortDashLines"},
   "mark": {"type": "rule", "color": "#ea8a66", "strokeWidth": 4.5, "opacity": 0.9, "strokeDash": [7, 6]},
   "encoding": {
    "x": {"field": "year", "type": "quantitative", "scale": {"domain": [9000, 12733], "reverse": true, "nice": false, "zero": false}},
    "y": {"field": "v", "type": "quantitative", "scale": {"domain": [0, 442.857], "nice": false, "zero": false}},
    "y2": {"field": "v2"}
   }
  },
  {
   "data": {"name": "longDashLines"},
   "mark": {"type": "rule", "color": "#ea8a66", "strokeWidth": 4.5, "opacity": 0.9, "strokeDash": [28, 14]},
   "encoding": {
    "x": {"field": "year", "type": "quantitative", "scale": {"domain": [9000, 12733], "reverse": true, "nice": false, "zero": false}},
    "y": {"field": "v", "type": "quantitative", "scale": {"domain": [0, 442.857], "nice": false, "zero": false}},
    "y2": {"field": "v2"}
   }
  }
 ]
}
